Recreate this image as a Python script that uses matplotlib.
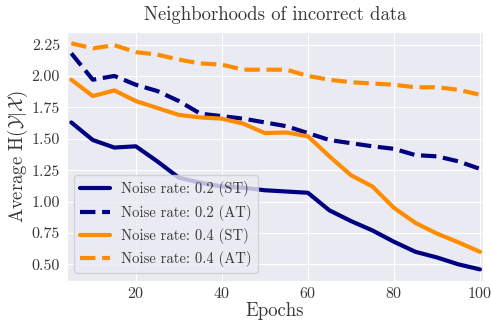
import numpy as np
import matplotlib
matplotlib.use("Agg")
import matplotlib.pyplot as plt
import seaborn as sns

epochs = np.arange(5, 101, 5)

# average conditional entropy per epoch, standard (ST) vs adversarial (AT) training
st_02 = [1.63, 1.49, 1.43, 1.44, 1.32, 1.19, 1.15, 1.12, 1.11, 1.09,
         1.08, 1.07, 0.93, 0.845, 0.77, 0.68, 0.60, 0.555, 0.50, 0.46]
at_02 = [2.18, 1.97, 2.00, 1.93, 1.88, 1.80, 1.70, 1.68, 1.66, 1.63,
         1.60, 1.545, 1.49, 1.465, 1.44, 1.42, 1.37, 1.36, 1.32, 1.26]
st_04 = [1.97, 1.84, 1.885, 1.80, 1.745, 1.69, 1.67, 1.66, 1.62, 1.545,
         1.55, 1.52, 1.36, 1.21, 1.12, 0.95, 0.83, 0.745, 0.675, 0.60]
at_04 = [2.26, 2.22, 2.245, 2.19, 2.17, 2.13, 2.10, 2.09, 2.05, 2.05,
         2.05, 2.00, 1.97, 1.95, 1.94, 1.93, 1.91, 1.91, 1.89, 1.85]

series = [
    (st_02, "navy", "-", "Noise rate: 0.2 (ST)"),
    (at_02, "navy", "--", "Noise rate: 0.2 (AT)"),
    (st_04, "darkorange", "-", "Noise rate: 0.4 (ST)"),
    (at_04, "darkorange", "--", "Noise rate: 0.4 (AT)"),
]

sns.set_style("darkgrid")
plt.rcParams["font.family"] = "serif"
plt.rcParams["font.serif"] = ["cmr10"]
plt.rcParams["mathtext.fontset"] = "cm"
plt.rcParams["axes.formatter.use_mathtext"] = True
for key in ("text.color", "axes.labelcolor", "xtick.labelcolor", "ytick.labelcolor"):
    plt.rcParams[key] = "0.22"

fig = plt.figure(figsize=(4.91, 3.21), dpi=100)
ax = fig.add_axes([67 / 491, 40.3 / 321, 416 / 491, 248.7 / 321])

for vals, color, ls, label in series:
    ax.plot(epochs, vals, color=color, linestyle=ls, linewidth=3, label=label)

ax.set_xlim(4, 100.7)
ax.set_xticks([20, 40, 60, 80, 100])
ax.set_yticks(np.arange(0.5, 2.26, 0.25))
ax.yaxis.set_major_formatter(matplotlib.ticker.FormatStrFormatter("%.2f"))
ax.tick_params(labelsize=11.5, pad=1.5)
ax.tick_params(axis="x", pad=0)

ax.set_title("Neighborhoods of incorrect data", fontsize=13.5, pad=9)
ax.set_xlabel("Epochs", fontsize=13.5, labelpad=1)
ax.set_ylabel(r"Average H($\mathcal{Y}|\mathcal{X}$)", fontsize=13.5, labelpad=1)
ax.legend(loc="lower left", fontsize=10.6)

fig.savefig("out.png", dpi=100)
